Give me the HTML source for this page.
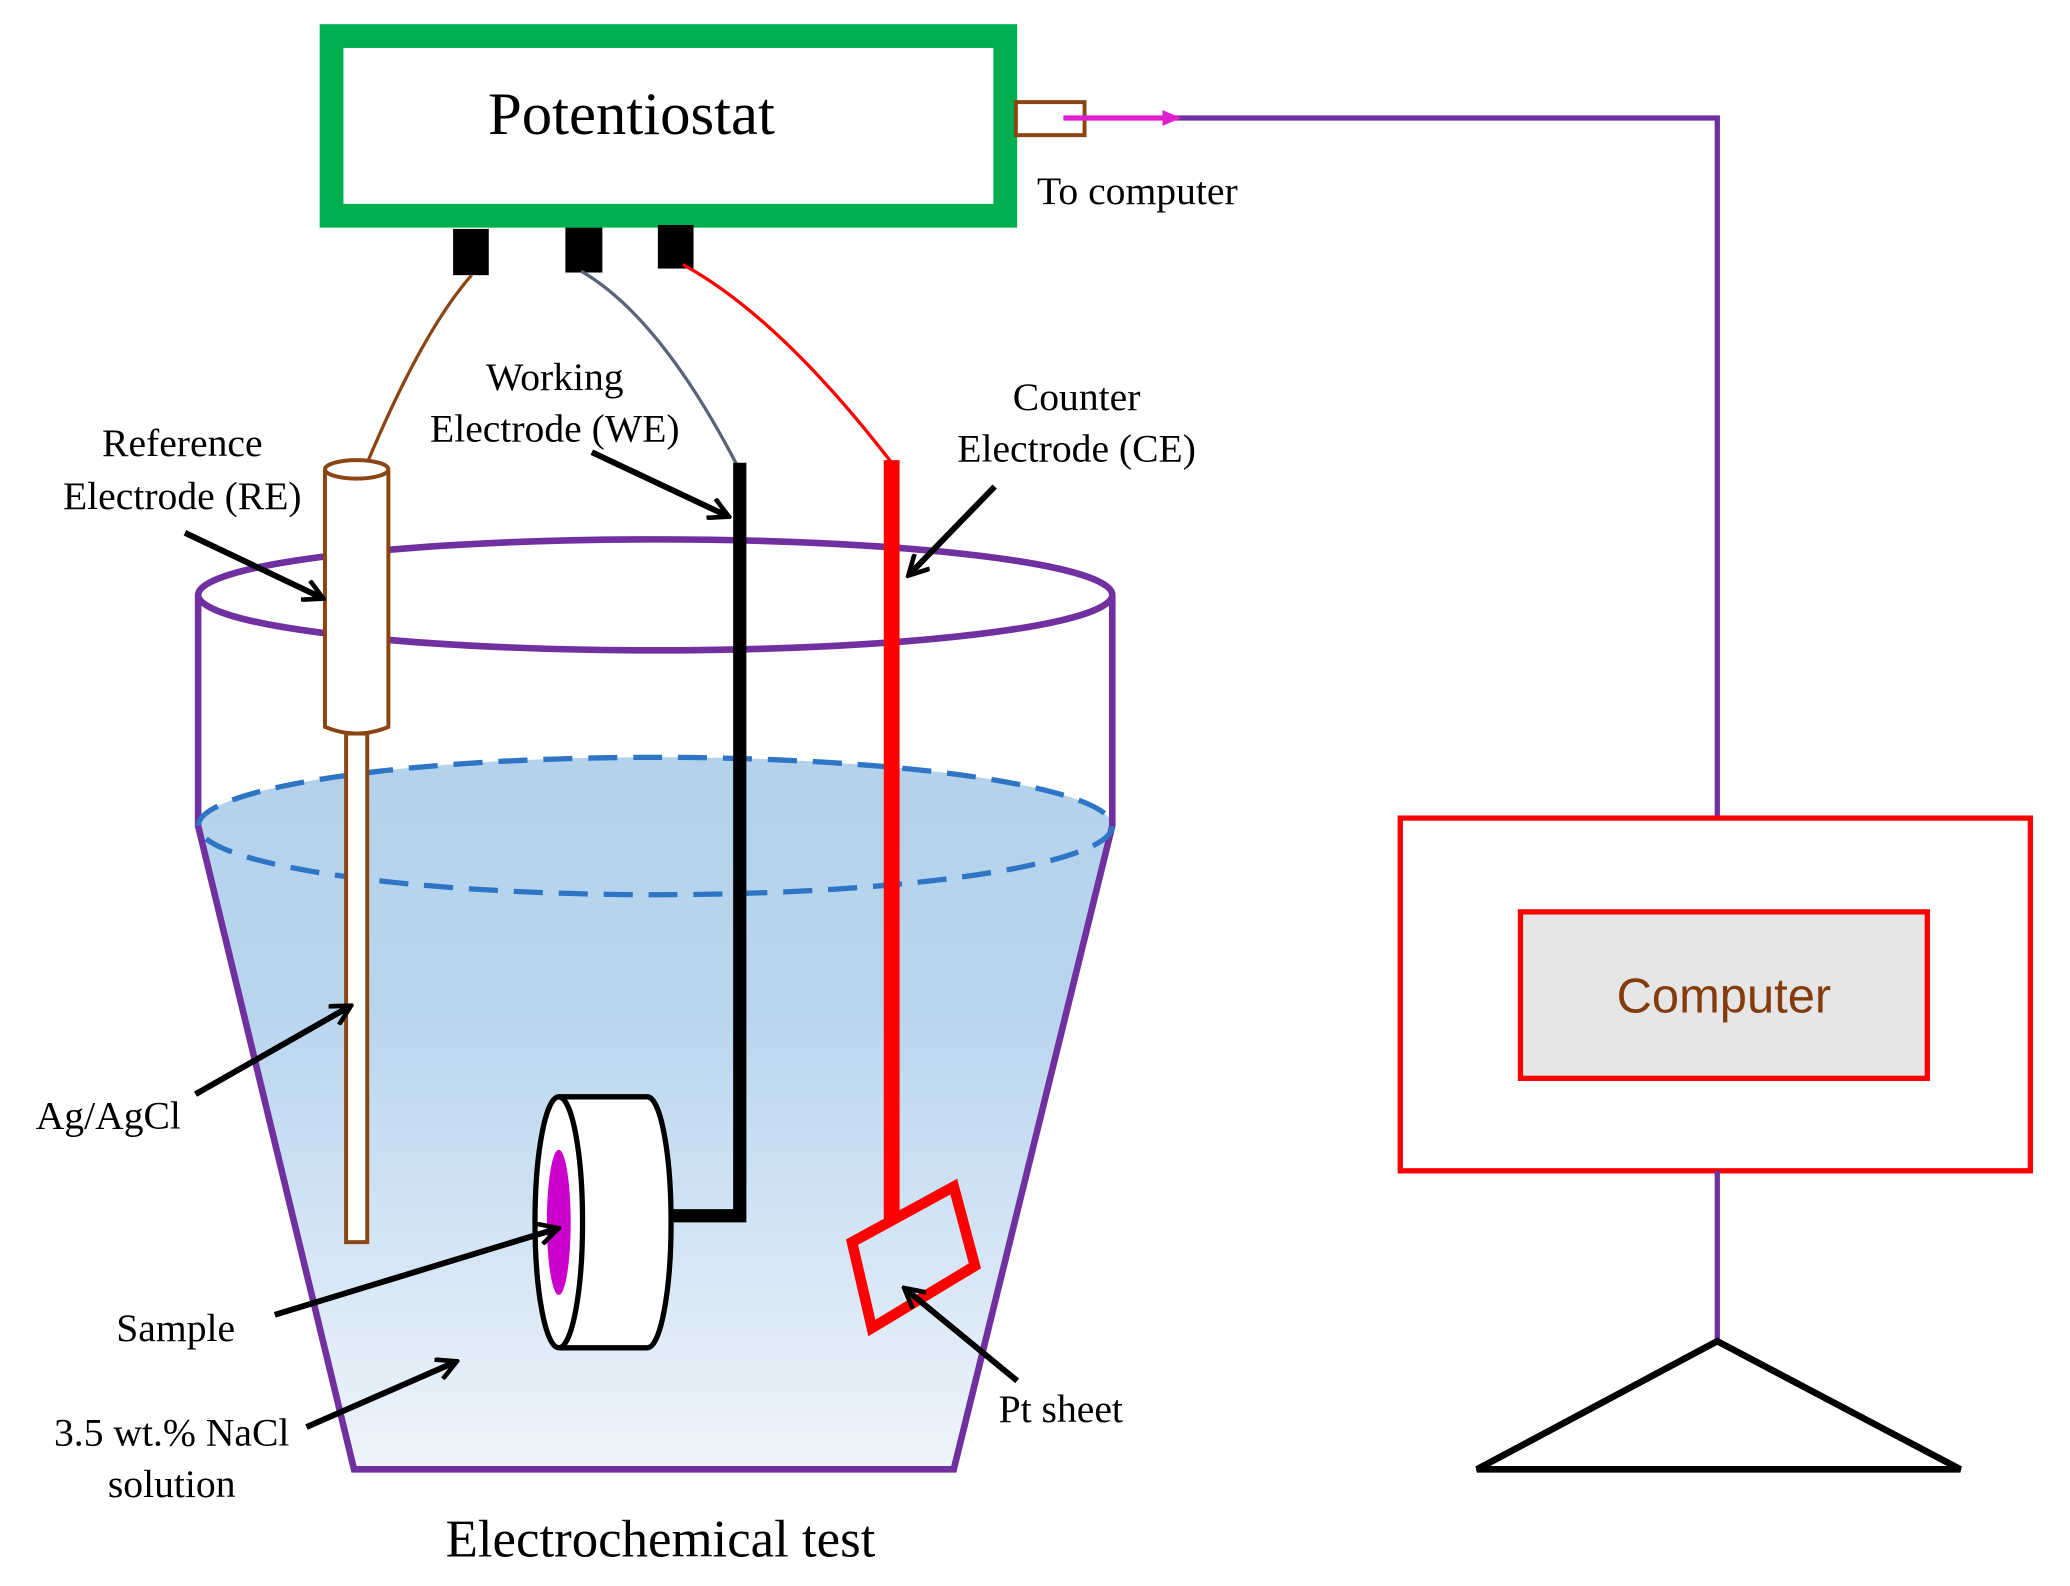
<!DOCTYPE html>
<html><head><meta charset="utf-8"><style>
html,body{margin:0;padding:0;background:#fff;}
svg{display:block;}
text{font-family:"Liberation Serif",serif;fill:#000;}
</style></head><body>
<svg width="2070" height="1586" viewBox="0 0 1567 1200" xmlns="http://www.w3.org/2000/svg">
<defs>
<linearGradient id="liq" x1="0" y1="0" x2="0" y2="1">
<stop offset="0" stop-color="#b4d2ec"/><stop offset="0.35" stop-color="#b9d5ee"/><stop offset="1" stop-color="#eef4fb"/>
</linearGradient>
<marker id="ah" markerWidth="18" markerHeight="18" refX="14" refY="9" orient="auto" markerUnits="userSpaceOnUse" viewBox="0 0 18 18">
<path d="M1,1 L16,9 L1,17" fill="none" stroke="#000" stroke-width="3.5"/>
</marker>
<marker id="ahm" markerWidth="14" markerHeight="14" refX="12" refY="7" orient="auto" markerUnits="userSpaceOnUse" viewBox="0 0 14 14">
<path d="M0,1 L14,7 L0,13 Z" fill="#e020d0"/>
</marker>
</defs>

<path d="M150,625 A345,52 0 0 1 842,625 L722,1112 L268,1112 Z" fill="url(#liq)"/>
<path d="M150,450 L150,625 L268,1112 L722,1112 L842,625 L842,450" fill="none" stroke="#7030a0" stroke-width="5"/>
<ellipse cx="496" cy="450" rx="346" ry="42" fill="none" stroke="#7030a0" stroke-width="5"/>
<ellipse cx="496" cy="625" rx="346" ry="52" fill="none" stroke="#2e75c6" stroke-width="4" stroke-dasharray="22,12"/>

<rect x="251" y="27" width="510" height="136" fill="#fff" stroke="#00b050" stroke-width="18"/>
<text x="478" y="101" font-size="46" text-anchor="middle">Potentiostat</text>
<rect x="769" y="77" width="52" height="25" fill="#fff" stroke="#8b4513" stroke-width="3"/>
<polyline points="890,89 1300,89 1300,618" fill="none" stroke="#7030a0" stroke-width="4"/>
<line x1="805" y1="89" x2="892" y2="89" stroke="#e020d0" stroke-width="4" marker-end="url(#ahm)"/>
<text x="785" y="154" font-size="30">To computer</text>

<rect x="343" y="173" width="27" height="35" fill="#000"/>
<rect x="428" y="172" width="28" height="34" fill="#000"/>
<rect x="498" y="170" width="27" height="33" fill="#000"/>

<path d="M357,208 Q320,250 278,350" fill="none" stroke="#8b4513" stroke-width="2.5"/>
<path d="M440,205 Q500,240 558,352" fill="none" stroke="#5a6478" stroke-width="2.5"/>
<path d="M517,200 Q590,240 675,350" fill="none" stroke="#ff0000" stroke-width="2.5"/>

<rect x="262" y="555" width="16" height="385" fill="#fff" stroke="#8b4513" stroke-width="3"/>
<path d="M246,356 L246,550 Q270,560 294,550 L294,356" fill="#fff" stroke="#8b4513" stroke-width="3"/>
<ellipse cx="270" cy="355" rx="24" ry="7" fill="#fff" stroke="#8b4513" stroke-width="3"/>

<polyline points="560,350 560,920 508,920" fill="none" stroke="#000" stroke-width="10"/>
<path d="M423,830 L490,830 A18,95 0 0 1 490,1020 L423,1020" fill="#fff" stroke="#000" stroke-width="4"/>
<ellipse cx="423" cy="925" rx="18" ry="95" fill="#fff" stroke="#000" stroke-width="4"/>
<ellipse cx="423" cy="925" rx="9" ry="55" fill="#cc00cc"/>

<line x1="675" y1="348" x2="675" y2="925" stroke="#ff0000" stroke-width="12"/>
<polygon points="645,940 722,898 738,958 660,1005" fill="none" stroke="#ff0000" stroke-width="8"/>

<rect x="1060" y="619" width="477" height="267" fill="#fff" stroke="#ff0000" stroke-width="4"/>
<rect x="1151" y="690" width="308" height="126" fill="#e6e6e6" stroke="#ff0000" stroke-width="4"/>
<text x="1305" y="766" font-size="37" text-anchor="middle" style="font-family:'Liberation Sans',sans-serif;fill:#843c0c">Computer</text>
<line x1="1300" y1="886" x2="1300" y2="1013" stroke="#7030a0" stroke-width="4"/>
<polygon points="1300,1015 1118,1112 1484,1112" fill="none" stroke="#000" stroke-width="5"/>

<g font-size="30" text-anchor="middle">
<text x="138" y="345">Reference</text>
<text x="138" y="385">Electrode (RE)</text>
<text x="420" y="295">Working</text>
<text x="420" y="334">Electrode (WE)</text>
<text x="815" y="310">Counter</text>
<text x="815" y="349">Electrode (CE)</text>
<text x="82" y="854">Ag/AgCl</text>
<text x="133" y="1015">Sample</text>
<text x="130" y="1094">3.5 wt.% NaCl</text>
<text x="130" y="1133">solution</text>
<text x="803" y="1076">Pt sheet</text>
<text x="500" y="1178" font-size="40">Electrochemical test</text>
</g>

<g stroke="#000" stroke-width="4.5" marker-end="url(#ah)">
<line x1="140" y1="403" x2="243" y2="452"/>
<line x1="448" y1="342" x2="550" y2="390"/>
<line x1="753" y1="368" x2="689" y2="434"/>
<line x1="148" y1="828" x2="264" y2="762"/>
<line x1="208" y1="995" x2="421" y2="930"/>
<line x1="232" y1="1080" x2="344" y2="1031"/>
<line x1="770" y1="1045" x2="686" y2="976"/>
</g>
</svg>
</body></html>
